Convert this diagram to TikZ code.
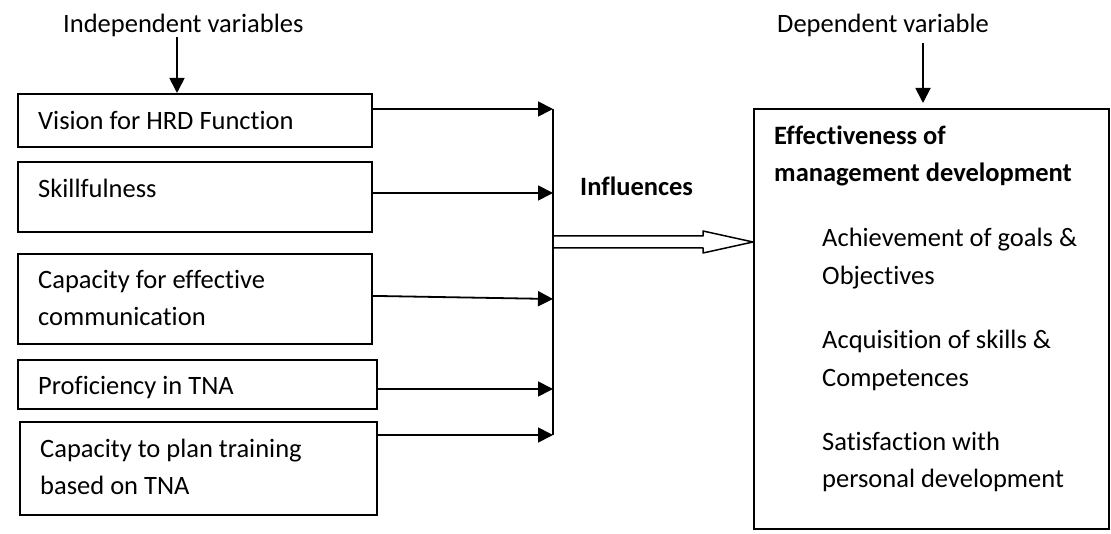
\documentclass[tikz,border=0pt]{standalone}
\usepackage{fontspec}
\setmainfont[Ligatures={NoCommon}]{Carlito}
\usetikzlibrary{arrows.meta,calc}
\begin{document}
\begin{tikzpicture}[x=1pt,y=-1pt,
  box/.style={draw,line width=1.8pt,inner sep=0pt,anchor=north west},
  txt/.style={anchor=base west,inner sep=0pt,font=\fontsize{26.5}{37.5}\selectfont},
  btxt/.style={anchor=base west,inner sep=0pt,font=\fontsize{26.5}{37.5}\selectfont\bfseries},
  arr/.style={line width=1.8pt,-{Triangle[length=15pt,width=15pt]}},
  link/.style={line width=1.8pt},
  hollow/.style={line width=1.5pt,line join=round}
  ]
\path[use as bounding box] (0,0) rectangle (1111,534);

% boxes
\node[box,minimum width=354pt,minimum height=53pt] (b1) at (17,93) {};
\node[box,minimum width=354pt,minimum height=70pt] (b2) at (17,161) {};
\node[box,minimum width=354pt,minimum height=90pt] (b3) at (17,253) {};
\node[box,minimum width=359pt,minimum height=49pt] (b4) at (17,359) {};
\node[box,minimum width=357pt,minimum height=93pt] (b5) at (19,421) {};
\node[box,minimum width=355pt,minimum height=420pt] (rb) at (753,108) {};

% texts
\node[txt] (iv) at (63,33) {Independent variables};
\node[txt] (dv) at (777,33) {Dependent variable};
\node[txt] (t1) at (38,129.5) {Vision for HRD Function};
\node[txt] (t2) at (38,197.3) {Skillfulness};
\node[txt] (t3) at (38,288.5) {Capacity for effective};
\node[txt] (t3b) at (38,326) {communication};
\node[txt] (t4) at (38,394.5) {Proficiency in TNA};
\node[txt] (t5) at (40,457) {Capacity to plan training};
\node[txt] (t5b) at (40,494.5) {based on TNA};
\node[btxt] (inf) at (580,196) {Influences};
\node[btxt] (r1) at (774,144.5) {Effectiveness of};
\node[btxt] (r2) at (774,182) {management development};
\node[txt] (r3) at (822,247) {Achievement of goals \&};
\node[txt] (r4) at (822,285) {Objectives};
\node[txt] (r5) at (822,349) {Acquisition of skills \&};
\node[txt] (r6) at (822,387) {Competences};
\node[txt] (r7) at (822,450) {Satisfaction with};
\node[txt] (r8) at (822,487) {personal development};

% top arrows
\coordinate (ivs) at (177,37);
\draw[arr] (ivs) -- (ivs |- b1.north);
\coordinate (dvs) at (923,43);
\draw[arr] (dvs) -- ($(dvs |- rb.north)+(0,-5)$);

% junction
\coordinate (j1) at (553,109);
\coordinate (j2) at (553,193);
\coordinate (j3) at (553,299);
\coordinate (j4) at (553,389);
\coordinate (j5) at (553,435);
\draw[arr] (b1.east |- j1) -- (j1);
\draw[arr] (b2.east |- j2) -- (j2);
\draw[arr] ($(b3.east)+(0,-3)$) -- (j3);
\draw[arr] (b4.east |- j4) -- (j4);
\draw[arr] (b5.east |- j5) -- (j5);
\draw[link] (j1) -- (j5);

% hollow arrow
\coordinate (hs) at (553,242);
\coordinate (ht) at (rb.west |- hs);
\draw[hollow] ($(hs)+(0,-6)$) -- ($(ht)+(-50,-6)$) -- ($(ht)+(-50,-11)$) -- (ht)
  -- ($(ht)+(-50,11)$) -- ($(ht)+(-50,6)$) -- ($(hs)+(0,6)$);
\end{tikzpicture}
\end{document}
